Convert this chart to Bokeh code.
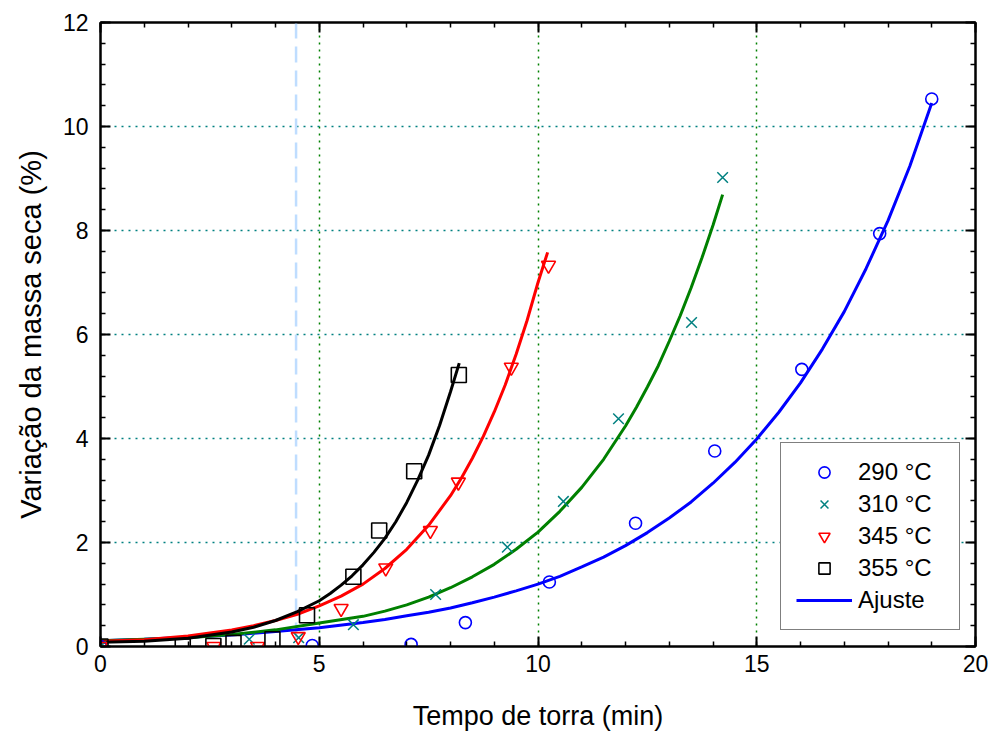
from bokeh.plotting import figure
from bokeh.models import (Range1d, SingleIntervalTicker, FixedTicker, LinearAxis,
                          Legend, LegendItem, Span, CustomLabelingPolicy)
from bokeh.embed import file_html
from bokeh.resources import INLINE

# ---- data ----
x290 = [0, 4.84, 7.10, 8.34, 10.26, 12.23, 14.04, 16.03, 17.81, 19.00]
y290 = [0, 0.02, 0.04, 0.46, 1.24, 2.37, 3.76, 5.33, 7.94, 10.53]

x310 = [0, 3.40, 4.53, 5.78, 7.66, 9.30, 10.58, 11.84, 13.51, 14.22]
y310 = [0, 0.14, 0.17, 0.42, 1.00, 1.91, 2.79, 4.38, 6.23, 9.02]

x345 = [0, 2.59, 3.59, 4.52, 5.50, 6.52, 7.54, 8.18, 9.39, 10.24]
y345 = [0, 0.00, 0.00, 0.19, 0.73, 1.51, 2.23, 3.16, 5.37, 7.33]

x355 = [0, 1.88, 2.58, 3.04, 3.93, 4.72, 5.78, 6.37, 7.17, 8.19]
y355 = [0, 0.00, 0.01, 0.07, 0.14, 0.60, 1.34, 2.23, 3.37, 5.22]

# fitted curves
fit290_x = [0, 1, 2, 3, 4, 5, 6, 6.5, 7, 7.5, 8, 8.5, 9, 9.5, 10, 10.5, 11, 11.5, 12, 12.5,
            13, 13.5, 14, 14.5, 15, 15.5, 16, 16.5, 17, 17.5, 18, 18.5, 19.0]
fit290_y = [0.11, 0.14, 0.18, 0.22, 0.29, 0.36, 0.46, 0.52, 0.59, 0.66, 0.74, 0.84, 0.95, 1.07,
            1.20, 1.35, 1.53, 1.72, 1.94, 2.19, 2.47, 2.78, 3.14, 3.54, 3.99, 4.50, 5.07, 5.72,
            6.44, 7.27, 8.19, 9.24, 10.45]

fit310_x = [0, 1, 2, 3, 4, 5, 6, 6.5, 7, 7.5, 8, 8.5, 9, 9.5, 10, 10.5, 11, 11.5, 12, 12.25,
            12.5, 12.75, 13, 13.25, 13.5, 13.75, 14, 14.22]
fit310_y = [0.11, 0.14, 0.17, 0.23, 0.32, 0.45, 0.58, 0.68, 0.80, 0.95, 1.13, 1.34, 1.58, 1.87,
            2.20, 2.60, 3.06, 3.60, 4.24, 4.60, 4.99, 5.40, 5.87, 6.36, 6.90, 7.48, 8.10, 8.69]

fit345_x = [0, 1, 2, 3, 3.5, 4, 4.5, 5, 5.5, 6, 6.5, 7, 7.5, 8, 8.25, 8.5, 8.75, 9, 9.25, 9.5,
            9.75, 10, 10.22]
fit345_y = [0.10, 0.13, 0.20, 0.32, 0.40, 0.50, 0.62, 0.78, 0.97, 1.20, 1.50, 1.87, 2.33, 2.90,
            3.24, 3.62, 4.04, 4.51, 5.03, 5.62, 6.27, 7.00, 7.58]

fit355_x = [0, 1, 2, 3, 3.5, 4, 4.5, 5, 5.25, 5.5, 5.75, 6, 6.25, 6.5, 6.75, 7, 7.25, 7.5, 7.75,
            8, 8.2]
fit355_y = [0.08, 0.10, 0.16, 0.28, 0.37, 0.50, 0.67, 0.88, 1.02, 1.18, 1.36, 1.57, 1.81, 2.08,
            2.40, 2.77, 3.20, 3.68, 4.25, 4.90, 5.45]

dashed_x = 4.47

x_ticks_grid = [5, 10, 15]
y_ticks_grid = [2, 4, 6, 8, 10]

labels = ["290 °C", "310 °C", "345 °C", "355 °C", "Ajuste"]

FONT = "Liberation Sans"

p = figure(width=992, height=742, output_backend="svg", toolbar_location=None,
           x_range=Range1d(0, 20), y_range=Range1d(0, 12),
           min_border_left=100, min_border_right=17, min_border_top=22, min_border_bottom=96,
           x_axis_location=None, y_axis_location=None)
p.outline_line_color = "black"
p.outline_line_width = 2
p.background_fill_color = "white"
p.border_fill_color = "white"

xt = SingleIntervalTicker(interval=5, num_minor_ticks=5)
yt = SingleIntervalTicker(interval=2, num_minor_ticks=5)

no_labels = CustomLabelingPolicy(code="""
for (const i of Array.from(indices)) { indices.unset(i) }
return indices
""")


def style_axis(ax, show_labels=True):
    ax.axis_line_width = 2
    ax.axis_line_color = "black"
    ax.major_tick_in = 10
    ax.major_tick_out = 0
    ax.minor_tick_in = 5
    ax.minor_tick_out = 0
    ax.major_tick_line_width = 2
    ax.minor_tick_line_width = 1.5
    ax.major_tick_line_color = "black"
    ax.minor_tick_line_color = "black"
    ax.major_label_text_font = FONT
    ax.major_label_text_font_size = "23px"
    ax.major_label_text_color = "black"
    ax.axis_label_text_font = FONT
    ax.axis_label_text_font_style = "normal"
    ax.axis_label_text_color = "black"
    if not show_labels:
        ax.major_label_policy = no_labels
        ax.major_label_standoff = 0
        ax.major_label_text_font_size = "1px"


xb = LinearAxis(ticker=xt, axis_label="Tempo de torra (min)")
style_axis(xb)
xb.major_label_standoff = 8
xb.axis_label_text_font_size = "27px"
xb.axis_label_standoff = 26
p.add_layout(xb, "below")

yl = LinearAxis(ticker=yt, axis_label="Variação da massa seca (%)")
style_axis(yl)
yl.major_label_standoff = 12
yl.axis_label_text_font_size = "29px"
yl.axis_label_standoff = 13
p.add_layout(yl, "left")

xa = LinearAxis(ticker=xt)
style_axis(xa, show_labels=False)
p.add_layout(xa, "above")

yr = LinearAxis(ticker=yt)
style_axis(yr, show_labels=False)
p.add_layout(yr, "right")

p.xgrid.ticker = FixedTicker(ticks=x_ticks_grid)
p.ygrid.ticker = FixedTicker(ticks=y_ticks_grid)
p.xgrid.grid_line_color = "#008000"
p.ygrid.grid_line_color = "#008080"
p.xgrid.grid_line_dash = "2 5"
p.ygrid.grid_line_dash = "2 5"
p.xgrid.grid_line_width = 1.5
p.ygrid.grid_line_width = 1.5

span = Span(location=dashed_x, dimension="height", line_color="#BFDDFF",
            line_width=2.5, line_dash="16 8", level="underlay")
p.add_layout(span)

# fitted curves
l290 = p.line(fit290_x, fit290_y, line_color="#0000FF", line_width=3)
p.line(fit310_x, fit310_y, line_color="#008000", line_width=3)
p.line(fit345_x, fit345_y, line_color="#FF0000", line_width=3)
p.line(fit355_x, fit355_y, line_color="black", line_width=3)

# data markers
s290 = p.scatter(x290, y290, marker="circle", size=12, fill_color=None,
                 line_color="#0000FF", line_width=1.6)
s310 = p.scatter(x310, y310, marker="x", size=15,
                 line_color="#008080", line_width=1.5)
s345 = p.scatter(x345, y345, marker="inverted_triangle", size=14, fill_color=None,
                 line_color="#FF0000", line_width=1.6)
s355 = p.scatter(x355, y355, marker="square", size=15, fill_color=None,
                 line_color="black", line_width=1.6)

legend = Legend(items=[
    LegendItem(label=labels[0], renderers=[s290]),
    LegendItem(label=labels[1], renderers=[s310]),
    LegendItem(label=labels[2], renderers=[s345]),
    LegendItem(label=labels[3], renderers=[s355]),
    LegendItem(label=labels[4], renderers=[l290]),
], location=(680, 16))
legend.label_text_font = FONT
legend.label_text_font_size = "24px"
legend.label_text_color = "black"
legend.glyph_width = 56
legend.glyph_height = 28
legend.label_height = 28
legend.label_width = 86
legend.label_standoff = 6
legend.spacing = 4
legend.padding = 15
legend.margin = 0
legend.border_line_color = "black"
legend.border_line_width = 1.5
legend.background_fill_color = "white"
legend.background_fill_alpha = 1.0
p.add_layout(legend, "center")

open("out.html", "w").write(file_html(p, INLINE))
